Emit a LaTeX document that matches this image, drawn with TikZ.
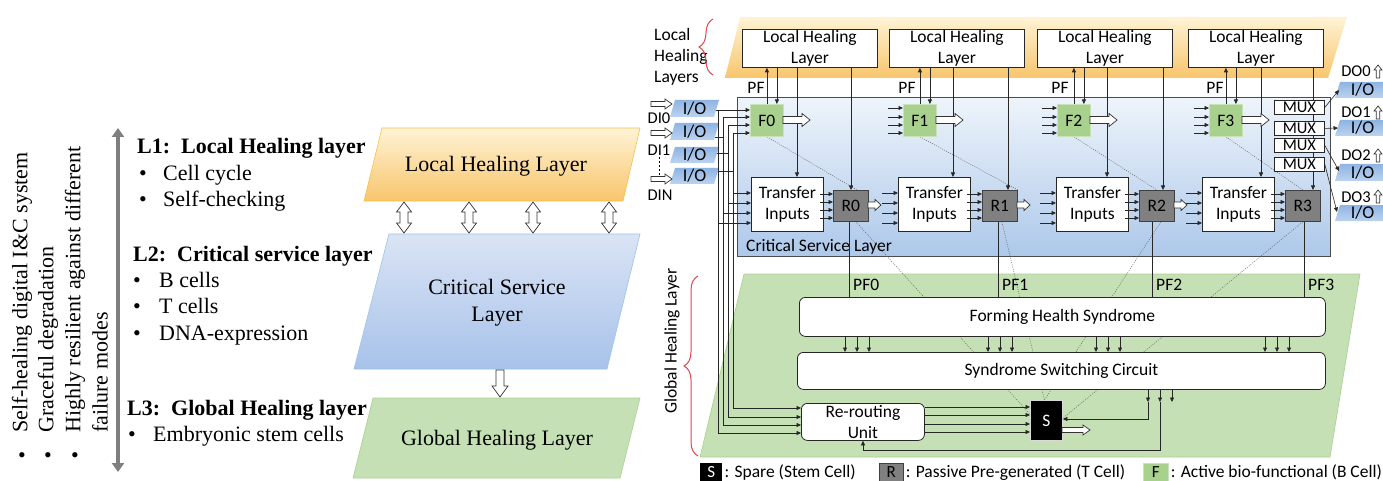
\documentclass[tikz,border=0pt]{standalone}
\usepackage{fontspec}
\setmainfont{Carlito}
\newfontfamily\tnr{Liberation Serif}
\usetikzlibrary{arrows.meta,calc,decorations.pathreplacing}
\definecolor{lhTop}{HTML}{FFF3D6}
\definecolor{lhBot}{HTML}{F8C56C}
\definecolor{lhLine}{HTML}{F4C04E}
\definecolor{csTop}{HTML}{DAE4F4}
\definecolor{csBot}{HTML}{A7C2EA}
\definecolor{csLine}{HTML}{9DC3E6}
\definecolor{ghFill}{HTML}{C5E0B4}
\definecolor{ghLine}{HTML}{A9D18E}
\definecolor{cslTop}{HTML}{EEF4FB}
\definecolor{cslBot}{HTML}{ADC8EA}
\definecolor{fFill}{HTML}{A9D18E}
\definecolor{fLine}{HTML}{C9E2B8}
\definecolor{rFill}{HTML}{808080}
\definecolor{rLine}{HTML}{404040}
\definecolor{ioTop}{HTML}{8EB4E3}
\definecolor{ioBot}{HTML}{BCD3EF}
\definecolor{braceRed}{HTML}{E0474C}
\definecolor{arrGray}{HTML}{7F7F7F}
\pgfdeclarelayer{back}
\pgfdeclarelayer{mid}
\pgfsetlayers{back,mid,main}
\newcommand\harR[6]{\draw[hollow] ({#1},{#2-#4}) -- ({#1+#3-#6},{#2-#4}) -- ({#1+#3-#6},{#2-#5}) -- ({#1+#3},{#2}) -- ({#1+#3-#6},{#2+#5}) -- ({#1+#3-#6},{#2+#4}) -- ({#1},{#2+#4}) -- cycle;}
\newcommand\harU[6]{\draw[hollow] ({#1-#4},{#2}) -- ({#1-#4},{#2-#3+#6}) -- ({#1-#5},{#2-#3+#6}) -- ({#1},{#2-#3}) -- ({#1+#5},{#2-#3+#6}) -- ({#1+#4},{#2-#3+#6}) -- ({#1+#4},{#2}) -- cycle;}
\newcommand\harD[6]{\draw[hollow] ({#1-#4},{#2}) -- ({#1-#4},{#2+#3-#6}) -- ({#1-#5},{#2+#3-#6}) -- ({#1},{#2+#3}) -- ({#1+#5},{#2+#3-#6}) -- ({#1+#4},{#2+#3-#6}) -- ({#1+#4},{#2}) -- cycle;}
\newcommand\harV[6]{\draw[hollow] ({#1},{#2}) -- ({#1+#5},{#2+#6}) -- ({#1+#4},{#2+#6}) -- ({#1+#4},{#3-#6}) -- ({#1+#5},{#3-#6}) -- ({#1},{#3}) -- ({#1-#5},{#3-#6}) -- ({#1-#4},{#3-#6}) -- ({#1-#4},{#2+#6}) -- ({#1-#5},{#2+#6}) -- cycle;}
\newcommand\iopar[6]{%
  \shade[top color=ioTop,bottom color=ioBot] ({#2},{#4}) -- ({#2+#6},{#3}) -- ({#2+#6+#5},{#3}) -- ({#2+#5},{#4}) -- cycle;
  \node[iotext] (#1) at ({#2+#6/2+#5/2},{(#3+#4)/2}) {I/O};}
\begin{document}
\begin{tikzpicture}[x=1pt,y=-1pt,
 >={Triangle[length=4.5pt,width=4pt]},
 hollow/.style={draw=black!80,fill=white,line width=0.7pt,line join=miter},
 wire/.style={line width=0.6pt,draw=black!85},
 dotline/.style={dash pattern=on 1pt off 1.3pt,line width=0.5pt,draw=black!60},
 sertext/.style={font=\tnr\fontsize{22}{27}\selectfont},
 serbold/.style={font=\tnr\bfseries\fontsize{22}{27}\selectfont},
 sanstext/.style={font=\fontsize{17.5}{21}\selectfont},
 wbox/.style={draw=black!85,fill=white,line width=0.8pt,inner sep=0pt,align=center,font=\fontsize{17.5}{21}\selectfont,anchor=north west},
 fcell/.style={draw=fLine,fill=fFill,line width=0.8pt,minimum width=33pt,minimum height=32pt,inner sep=0pt,font=\fontsize{17.5}{21}\selectfont,anchor=north west},
 rcell/.style={draw=rLine,fill=rFill,line width=0.8pt,minimum width=35pt,minimum height=31pt,inner sep=0pt,font=\fontsize{17.5}{21}\selectfont,anchor=north west},
 mux/.style={draw=black!85,fill=white,line width=0.8pt,minimum width=50pt,minimum height=14pt,inner sep=0pt,font=\fontsize{16.5}{18}\selectfont,anchor=north west},
 iotext/.style={inner sep=0pt,font=\fontsize{18}{20}\selectfont},
 redbrace/.style={draw=braceRed,line width=1pt,decorate,decoration={brace,amplitude=14pt}},
 legbox/.style={minimum height=18pt,inner sep=0pt,anchor=north west,font=\fontsize{17}{20}\selectfont}
]
\useasboundingbox (0,0) rectangle (1383,481);

% ================= LEFT PART =================
\draw[arrGray,line width=4pt,{Triangle[length=9pt,width=12pt]}-{Triangle[length=9pt,width=12pt]}] (118,128) -- (118,472);

\node[sertext,rotate=90,anchor=west,inner sep=0pt] (rot1) at (22,433) {Self-healing digital I\&C system};
\node[sertext,rotate=90,anchor=west,inner sep=0pt] (rot2) at (48,433) {Graceful degradation};
\node[sertext,rotate=90,anchor=west,inner sep=0pt] (rot3) at (75,433) {Highly resilient against different};
\node[sertext,rotate=90,anchor=west,inner sep=0pt] (rot4) at (100,433) {failure modes};
\node[sertext,inner sep=0pt] (bul1) at (22,458) {•};
\node[sertext,inner sep=0pt] (bul2) at (48,458) {•};
\node[sertext,inner sep=0pt] (bul3) at (75,458) {•};

\node[serbold,anchor=base west,inner sep=0pt] (L1) at (137,154) {L1:\ \ Local Healing layer};
\node[sertext,anchor=base west,inner sep=0pt] (L1ab) at (139,181) {•};
\node[sertext,anchor=base west,inner sep=0pt] (L1a) at (163,181) {Cell cycle};
\node[sertext,anchor=base west,inner sep=0pt] (L1bb) at (139,207) {•};
\node[sertext,anchor=base west,inner sep=0pt] (L1b) at (163,207) {Self-checking};

\node[serbold,anchor=base west,inner sep=0pt] (L2) at (133,261) {L2:\ \ Critical service layer};
\node[sertext,anchor=base west,inner sep=0pt] (L2ab) at (133,287) {•};
\node[sertext,anchor=base west,inner sep=0pt] (L2a) at (159,287) {B cells};
\node[sertext,anchor=base west,inner sep=0pt] (L2bb) at (133,313) {•};
\node[sertext,anchor=base west,inner sep=0pt] (L2b) at (159,313) {T cells};
\node[sertext,anchor=base west,inner sep=0pt] (L2cb) at (133,340) {•};
\node[sertext,anchor=base west,inner sep=0pt] (L2c) at (159,340) {DNA-expression};

\node[serbold,anchor=base west,inner sep=0pt] (L3) at (127,415) {L3:\ \ Global Healing layer};
\node[sertext,anchor=base west,inner sep=0pt] (L3ab) at (128,441) {•};
\node[sertext,anchor=base west,inner sep=0pt] (L3a) at (153,441) {Embryonic stem cells};

\shadedraw[draw=lhLine,top color=lhTop,bottom color=lhBot,line width=0.6pt] (382,128) -- (640,128) -- (623,201) -- (364,201) -- cycle;
\node[sertext] (lhl) at (496,166) {Local Healing Layer};
\shadedraw[draw=csLine,top color=csTop,bottom color=csBot,line width=0.6pt] (389,234) -- (640,234) -- (607,369) -- (354,369) -- cycle;
\node[sertext,align=center] (csl) at (497,303) {Critical Service\\Layer};
\filldraw[draw=ghLine,fill=ghFill,line width=0.6pt] (373,398) -- (640,398) -- (620,478) -- (353,478) -- cycle;
\node[sertext] (ghl) at (497,440) {Global Healing Layer};

\harV{404}{202}{233}{4}{7.5}{10}
\harV{469}{202}{233}{4}{7.5}{10}
\harV{533}{202}{233}{4}{7.5}{10}
\harV{609}{202}{233}{4}{7.5}{10}
\harD{500}{370}{27}{4}{8}{11}

% ================= RIGHT PART =================
\begin{pgfonlayer}{back}
\shade[top color=lhTop,bottom color=lhBot] (740,17) -- (1347,17) -- (1328,78) -- (725,78) -- cycle;
\filldraw[fill=ghFill,draw=ghLine,line width=0.6pt] (744,274) -- (1360,274) -- (1330,457) -- (700,457) -- cycle;
\node[draw=black!70,line width=1pt,top color=cslTop,bottom color=cslBot,minimum width=593pt,minimum height=159pt,inner sep=0pt,anchor=north west] (CSL) at (737,97) {};
\end{pgfonlayer}

\node[sanstext,align=left,anchor=west,inner sep=0pt] (LHLs) at (654,57) {Local\\Healing\\Layers};
\node[sanstext,rotate=90,inner sep=0pt] (GHLs) at (672,341) {Global Healing Layer};
\node[sanstext,anchor=west,inner sep=0pt] (CSLlab) at (746,247) {Critical Service Layer};
\draw[redbrace] (713,75) -- (713,19);
\draw[redbrace] (698,456) -- (698,276);

\node[wbox,minimum width=135pt,minimum height=38pt] (LH0) at (742,29) {Local Healing\\Layer};
\node[wbox,minimum width=135pt,minimum height=38pt] (LH1) at (889,29) {Local Healing\\Layer};
\node[wbox,minimum width=135pt,minimum height=38pt] (LH2) at (1037,29) {Local Healing\\Layer};
\node[wbox,minimum width=135pt,minimum height=38pt] (LH3) at (1188,29) {Local Healing\\Layer};

\node[fcell] (F0) at (750,104) {F0};
\node[fcell] (F1) at (903,104) {F1};
\node[fcell] (F2) at (1057,104) {F2};
\node[fcell] (F3) at (1209,104) {F3};

\node[wbox,minimum width=72pt,minimum height=54pt] (T0) at (751,177) {Transfer\\Inputs};
\node[wbox,minimum width=72pt,minimum height=54pt] (T1) at (898,177) {Transfer\\Inputs};
\node[wbox,minimum width=72pt,minimum height=54pt] (T2) at (1056,177) {Transfer\\Inputs};
\node[wbox,minimum width=72pt,minimum height=54pt] (T3) at (1202,177) {Transfer\\Inputs};

\node[rcell] (R0) at (833,190) {R0};
\node[rcell] (R1) at (982,190) {R1};
\node[rcell] (R2) at (1139,190) {R2};
\node[rcell] (R3) at (1285,190) {R3};

\node[mux] (M0) at (1274,100) {MUX};
\node[mux] (M1) at (1274,121) {MUX};
\node[mux] (M2) at (1274,138) {MUX};
\node[mux] (M3) at (1274,157) {MUX};

\node[wbox,rounded corners=6pt,minimum width=526pt,minimum height=39pt] (FHS) at (799,297) {Forming Health Syndrome};
\node[wbox,rounded corners=6pt,minimum width=528pt,minimum height=37pt] (SSC) at (797,352) {Syndrome Switching Circuit};
\node[wbox,rounded corners=6pt,minimum width=123pt,minimum height=37pt] (RR) at (801,403) {Re-routing\\Unit};
\node[draw=black!15,fill=black,text=white,line width=0.8pt,minimum width=32pt,minimum height=40pt,inner sep=0pt,anchor=north west,font=\fontsize{17.5}{21}\selectfont] (S) at (1030,400) {S};

\node[sanstext] (pf0) at (756,88) {PF};
\node[sanstext] (pf1) at (907,88) {PF};
\node[sanstext] (pf2) at (1060,88) {PF};
\node[sanstext] (pf3) at (1215,88) {PF};

% I/O blocks
\iopar{in1}{670}{100}{117}{44}{5}
\iopar{in2}{670}{123}{140}{44}{5}
\iopar{in3}{670}{147}{163}{44}{5}
\iopar{in4}{670}{168}{184}{44}{5}
\iopar{out0}{1335}{82}{98}{50}{5}
\iopar{out1}{1335}{120}{136}{50}{5}
\iopar{out2}{1335}{164}{181}{50}{5}
\iopar{out3}{1335}{205}{221}{50}{5}

\harR{651}{104}{21}{2.5}{5}{7}
\harR{651}{133}{21}{2.5}{5}{7}
\harR{651}{179}{21}{2.5}{5}{7}
\node[inner sep=0pt,font=\fontsize{16.5}{19}\selectfont] (di0) at (659,118) {DI0};
\node[inner sep=0pt,font=\fontsize{16.5}{19}\selectfont] (di1) at (659,150) {DI1};
\node[inner sep=0pt,font=\fontsize{16.5}{19}\selectfont] (din) at (660,195) {DIN};
\draw[dash pattern=on 2pt off 2pt,line width=0.6pt] ($(di1.south)+(0,1)$) -- (di1.south |- 0,175);

\node[inner sep=0pt,font=\fontsize{16.5}{19}\selectfont] (do0) at (1356,71) {DO0};
\node[inner sep=0pt,font=\fontsize{16.5}{19}\selectfont] (do1) at (1356,112) {DO1};
\node[inner sep=0pt,font=\fontsize{16.5}{19}\selectfont] (do2) at (1356,155) {DO2};
\node[inner sep=0pt,font=\fontsize{16.5}{19}\selectfont] (do3) at (1356,197) {DO3};
\harU{1378}{78}{13}{1.8}{4}{5}
\harU{1378}{119}{13}{1.8}{4}{5}
\harU{1378}{162}{13}{1.8}{4}{5}
\harU{1378}{203}{13}{1.8}{4}{5}

% input wiring
\draw[wire,->] (716,110) -- (F0.west |- 0,110);
\draw[wire,->] (723,117) -- (F0.west |- 0,117);
\draw[wire,->] (728,125) -- (F0.west |- 0,125);
\draw[wire,->] (733,133) -- (F0.west |- 0,133);
\draw[wire,->] (718,110) -- (718,433) -- (RR.west |- 0,433);
\draw[wire,->] (723,117) -- (723,425) -- (RR.west |- 0,425);
\draw[wire,->] (728,125) -- (728,417) -- (RR.west |- 0,417);
\draw[wire,->] (733,133) -- (733,408) -- (RR.west |- 0,408);
\draw[wire] (715,137) -- (723,137);
\draw[wire] (717,153) -- (728,153);
\draw[wire] (718,171) -- (733,171);
\draw[wire,->] (733,193) -- (T0.west |- 0,193);
\draw[wire,->] (728,203) -- (T0.west |- 0,203);
\draw[wire,->] (723,213) -- (T0.west |- 0,213);
\draw[wire,->] (718,223) -- (T0.west |- 0,223);

\foreach \c in {F1,F2,F3} {\foreach \yy in {108,117,125,133} {\draw[wire,->] ($(\c.west |- 0,\yy)+(-15,0)$) -- (\c.west |- 0,\yy);}}
\foreach \c in {T1,T2,T3} {\foreach \yy in {193,203,213,223} {\draw[wire,->] ($(\c.west |- 0,\yy)+(-16,0)$) -- (\c.west |- 0,\yy);}}
\foreach \t/\r in {T0/R0,T1/R1,T2/R2,T3/R3} {\foreach \yy in {194,202,210,218} {\draw[wire,->] ($(\t.east |- 0,\yy)+(-4,0)$) -- (\r.west |- 0,\yy);}}

\foreach \f/\l in {F0/LH0,F1/LH1,F2/LH2,F3/LH3} {
  \draw[wire,->] (\f.north) -- (\f.north |- \l.south);
  \coordinate (dn) at ($(\f.north)+(10,0)$);
  \draw[wire,->] (dn |- \l.south) -- (dn);
}
\foreach \xx/\l/\t in {797/LH0/T0,953/LH1/T1,1107/LH2/T2,1261/LH3/T3} {\draw[wire,->] (\xx,0 |- \l.south) -- (\xx,0 |- \t.north);}
\foreach \xx/\l/\r in {851/LH0/R0,1008/LH1/R1,1163/LH2/R2} {\draw[wire,->] (\xx,0 |- \l.south) -- (\xx,0 |- \r.north);}

\harR{783}{120}{27}{3.5}{6.5}{8}
\harR{936}{120}{27}{3.5}{6.5}{8}
\harR{1090}{120}{27}{3.5}{6.5}{8}
\harR{1242}{120}{27}{3.5}{6.5}{8}
\harR{868}{205}{13}{3}{5.5}{6}
\harR{1017}{205}{13}{3}{5.5}{6}
\harR{1174}{205}{13}{3}{5.5}{6}

\foreach \xx/\r/\n in {849/R0/0,998/R1/1,1152/R2/2,1304/R3/3} {
  \draw[wire] (\xx,0 |- \r.south) -- (\xx,0 |- FHS.north);
  \node[sanstext,anchor=west,inner sep=0pt] (pfo\n) at (\xx+4,285) {PF\n};
}
\foreach \xx in {845,857,869,988,1000,1012,1096,1108,1120,1265,1277,1289} {\draw[wire,->] (\xx,0 |- FHS.south) -- (\xx,0 |- SSC.north);}
\foreach \xx in {1148,1160,1172} {\draw[wire,->] (\xx,0 |- SSC.south) -- (\xx,402);}
\draw[wire,->] (1148,402) -- (1148,419) -- (S.east |- 0,419);
\draw[wire,->] (1160,402) -- (1160,450) -- (863,450) -- (863,0 |- RR.south);
\foreach \yy in {407,415,424,432} {\draw[wire,->] (RR.east |- 0,\yy) -- (S.west |- 0,\yy);}
\harR{1062}{430}{28}{2.5}{5}{7}

\draw[wire,->] (M0.east) -- (1339,90);
\draw[wire,->] (M1.east) -- (1338,128);
\draw[wire,->] (M2.east) -- (1339,171);
\draw[wire,->] (M3.east) -- (1337,212);

\begin{pgfonlayer}{mid}
\draw[dotline] (F0.south) -- ($(R0.north)+(6,0)$);
\draw[dotline] (F1.south) -- (R1.north east);
\draw[dotline] (F2.south) -- (R2.north);
\draw[dotline] (F3.south) -- (R3.north);
\draw[dotline] ($(R0.south)+(5,0)$) -- ($(S.west)+(0,-6)$);
\draw[dotline] ($(R1.south)+(2,0)$) -- ($(S.north)+(-2,0)$);
\draw[dotline] ($(R2.south)+(4,0)$) -- ($(S.north)+(-2,0)$);
\draw[dotline] (R3.south) -- ($(S.east)+(1,-3)$);
\draw[wire,->] (1313,0 |- LH3.south) -- (1313,0 |- R3.north);
\end{pgfonlayer}

% legend
\node[legbox,fill=black,text=white,minimum width=22pt] (legS) at (700,463) {S};
\node[sanstext,anchor=west,inner sep=0pt] (legSt) at ([xshift=2pt]legS.east) {: Spare (Stem Cell)};
\node[legbox,fill=rFill,draw=rLine,line width=0.6pt,minimum width=24pt] (legR) at (879,463) {R};
\node[sanstext,anchor=west,inner sep=0pt] (legRt) at ([xshift=2pt]legR.east) {: Passive Pre-generated (T Cell)};
\node[legbox,fill=fFill,draw=fLine,line width=0.6pt,minimum width=25pt] (legF) at (1143,463) {F};
\node[sanstext,anchor=west,inner sep=0pt] (legFt) at ([xshift=2pt]legF.east) {: Active bio-functional (B Cell)};
\end{tikzpicture}
\end{document}
